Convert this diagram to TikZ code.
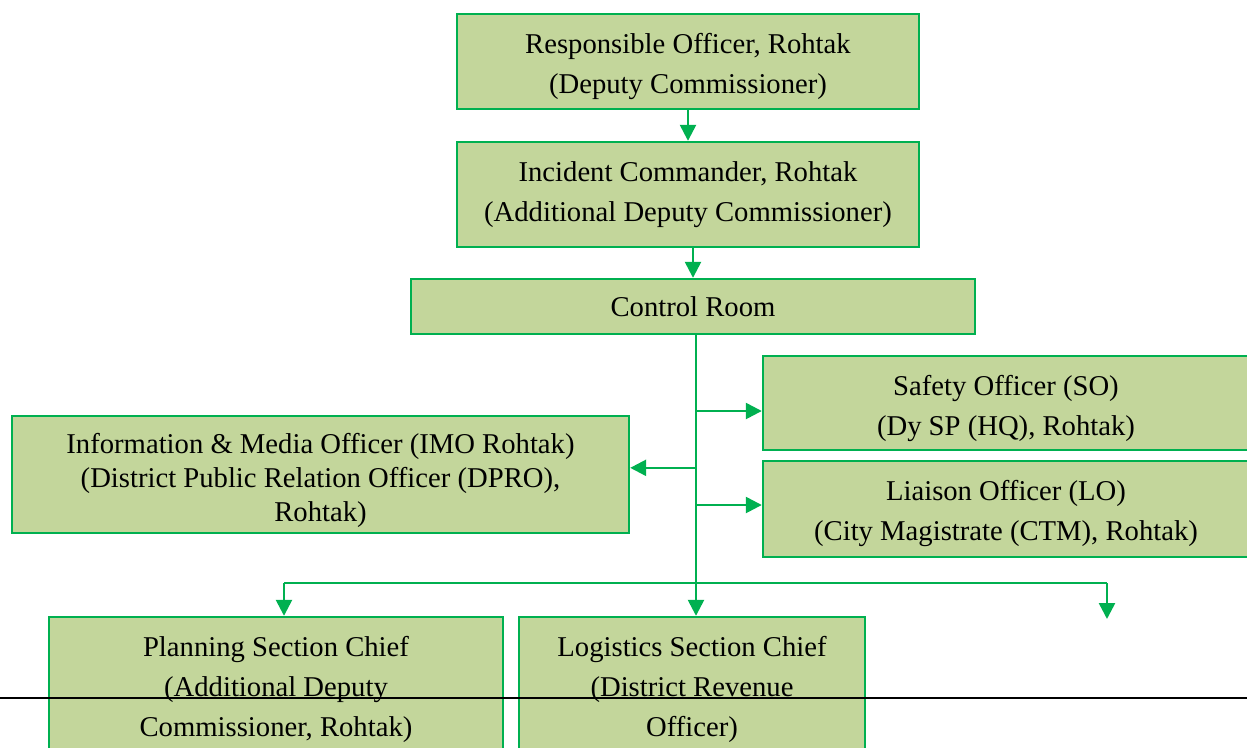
\documentclass[tikz,border=0pt]{standalone}
\usepackage{fontspec}
\setmainfont{Liberation Serif}
\usepackage{xcolor}
\usepackage{tikz}
\usetikzlibrary{arrows.meta,positioning,calc}

\definecolor{ogreen}{HTML}{00B050}
\definecolor{olive}{HTML}{C3D69B}

\tikzset{
	box/.style={draw=ogreen,fill=olive,line width=1.8pt,align=center,inner sep=0pt,
		font=\fontsize{21.5}{30}\selectfont},
	arr/.style={draw=ogreen,line width=1.9pt,-{Triangle[length=12pt,width=12pt]}},
	link/.style={draw=ogreen,line width=1.9pt}
}

\begin{document}
\begin{tikzpicture}[x=0.75pt,y=-0.75pt]
	\useasboundingbox (0,0) rectangle (1247,747);
	\clip (0,0) rectangle (1247,747);
	
	% command chain
	\node[box,minimum width=346.5pt,minimum height=71.25pt,text height=52pt] (ro) at (688,61.5)
		{Responsible Officer, Rohtak\\(Deputy Commissioner)};
	\node[box,minimum width=346.5pt,minimum height=78.75pt] (ic) at (688,194.5)
		{Incident Commander, Rohtak\\(Additional Deputy Commissioner)};
	\node[box,minimum width=423pt,minimum height=41.25pt] (cr) at (693,306.5)
		{Control Room};
	
	% command staff
	\node[box,minimum width=364.5pt,minimum height=70.5pt,text height=54pt] (so) at (1006,403)
		{Safety Officer (SO)\\(Dy SP (HQ), Rohtak)};
	\node[box,minimum width=364.5pt,minimum height=72pt,text height=52pt] (lo) at (1006,509)
		{Liaison Officer (LO)\\(City Magistrate (CTM), Rohtak)};
	\node[box,minimum width=462.75pt,minimum height=87.75pt,text height=75pt,
		font=\fontsize{21.5}{25.5}\selectfont] (imo) at (320.5,474.5)
		{Information \& Media Officer (IMO Rohtak)\\(District Public Relation Officer (DPRO),\\Rohtak)};
	
	% section chiefs
	\node[box,minimum width=340.5pt,minimum height=108pt] (psc) at (276,689)
		{Planning Section Chief\\(Additional Deputy\\Commissioner, Rohtak)};
	\node[box,minimum width=259.5pt,minimum height=108pt] (lsc) at (692,689)
		{Logistics Section Chief\\(District Revenue\\Officer)};
	
	% connectors
	\coordinate (trunk) at (696,583);
	\coordinate (busL) at (284,583);
	\coordinate (busR) at (1107,583);
	\coordinate (loose) at (1107,619);
	\coordinate (soIn) at ([yshift=-6pt]so.west);
	\coordinate (loIn) at ([yshift=3pt]lo.west);
	\coordinate (imoIn) at ([yshift=5pt]imo.east);
	
	\draw[arr] (ro) -- (ic);
	\draw[arr] (cr.north |- ic.south) -- (cr.north);
	\draw[arr] (trunk |- cr.south) -- (trunk |- lsc.north);
	\draw[arr] (trunk |- soIn) -- (soIn);
	\draw[arr] (trunk |- loIn) -- (loIn);
	\draw[arr] (trunk |- imoIn) -- (imoIn);
	\draw[link] (busL) -- (busR);
	\draw[arr] (busL) -- (busL |- psc.north);
	\draw[arr] (busR) -- (loose);
	
	% page rule
	\draw[black,line width=1pt] (0,698) -- (1247,698);
\end{tikzpicture}
\end{document}
